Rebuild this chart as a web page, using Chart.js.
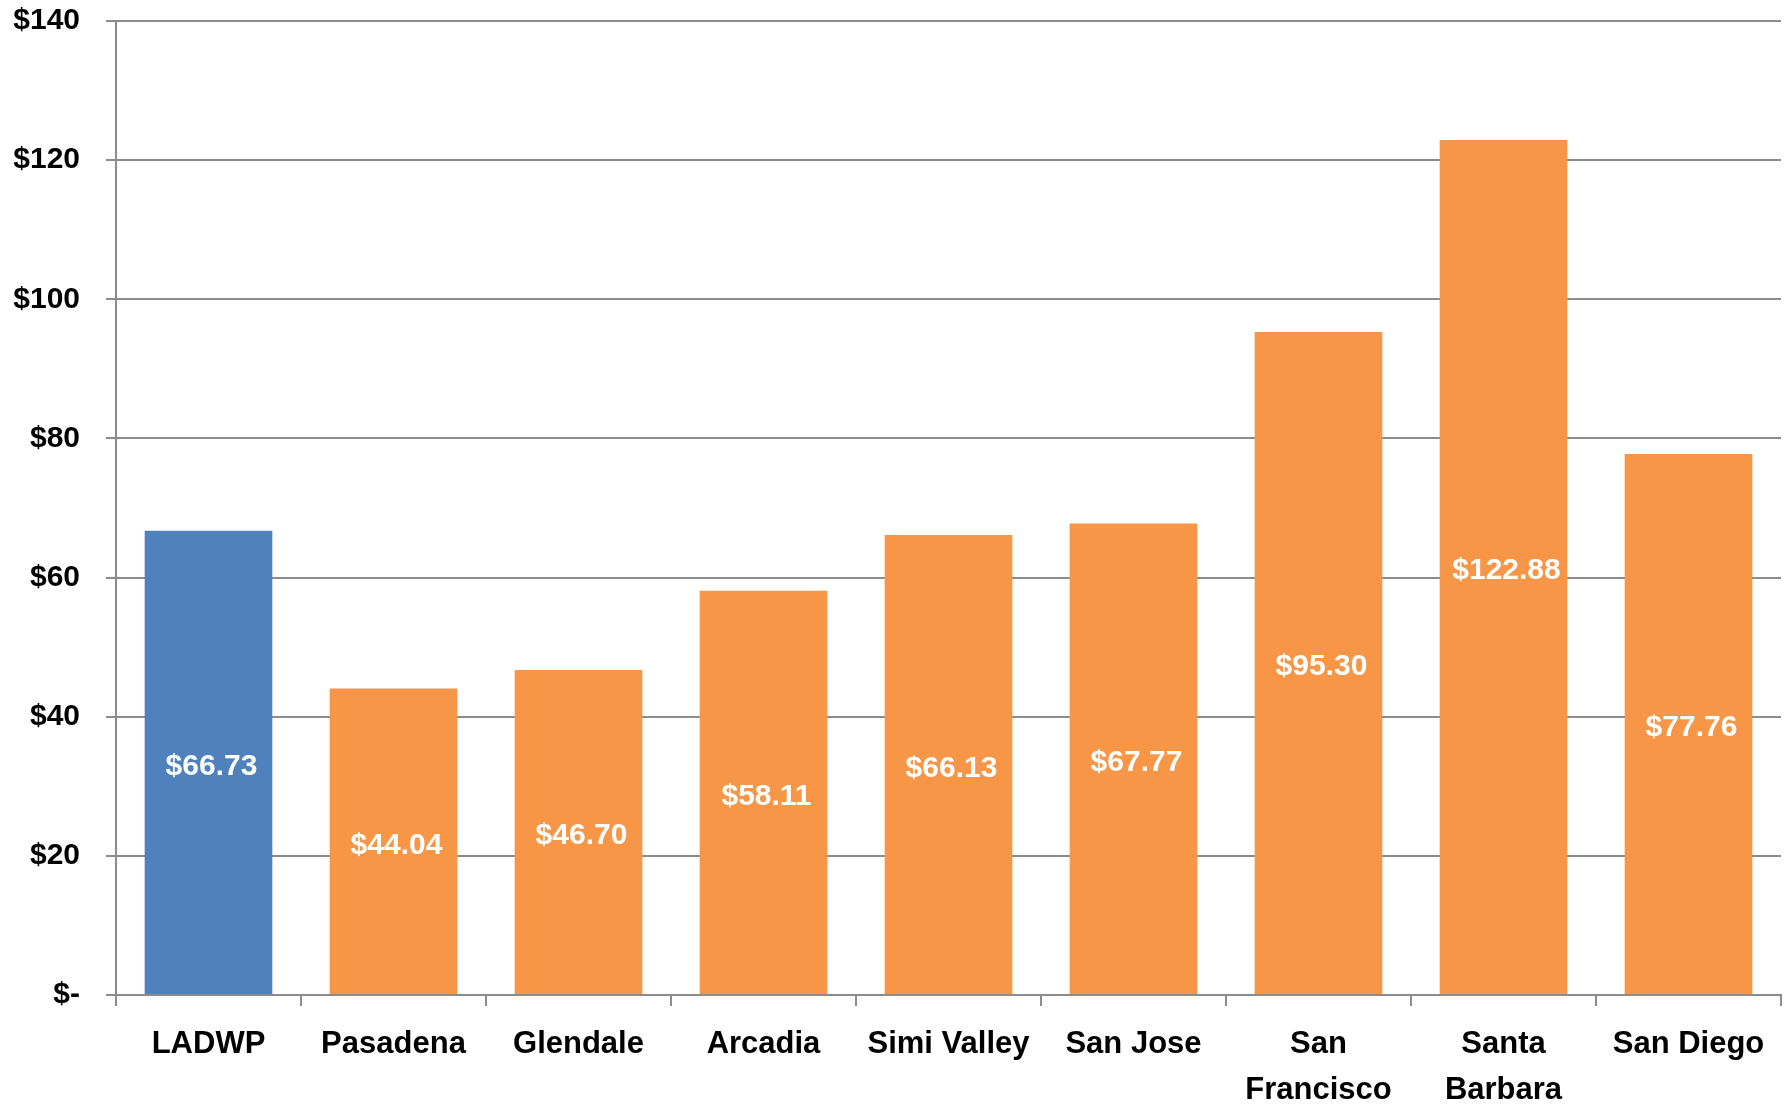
<!DOCTYPE html>
<html>
<head>
<meta charset="utf-8">
<script src="https://cdn.jsdelivr.net/npm/chart.js@4/dist/chart.umd.min.js"></script>
<style>
html,body{margin:0;padding:0;background:#fff;}
#wrap{width:1789px;height:1107px;position:relative;}
</style>
</head>
<body>
<div id="wrap"><canvas id="c" width="1789" height="1107"></canvas></div>
<script>
const categories = ['LADWP', 'Pasadena', 'Glendale', 'Arcadia', 'Simi Valley', 'San Jose', ['San', 'Francisco'], ['Santa', 'Barbara'], 'San Diego'];
const values = [66.73, 44.04, 46.70, 58.11, 66.13, 67.77, 95.30, 122.88, 77.76];
const barColors = ['#4F81BD', '#F79646', '#F79646', '#F79646', '#F79646', '#F79646', '#F79646', '#F79646', '#F79646'];
const yTicks = [0, 20, 40, 60, 80, 100, 120, 140];

const FONT = "'Liberation Sans', Arial, sans-serif";

const centerLabels = {
  id: 'centerLabels',
  afterDatasetsDraw(chart) {
    const ctx = chart.ctx;
    const meta = chart.getDatasetMeta(0);
    ctx.save();
    ctx.fillStyle = '#ffffff';
    ctx.font = 'bold 30px ' + FONT;
    ctx.textAlign = 'center';
    ctx.textBaseline = 'middle';
    meta.data.forEach((bar, i) => {
      const v = values[i];
      const y = (bar.y + bar.base) / 2;
      ctx.fillText('$' + v.toFixed(2), bar.x + 3, y + 4);
    });
    ctx.restore();
  }
};

new Chart(document.getElementById('c'), {
  type: 'bar',
  data: {
    labels: categories,
    datasets: [{
      data: values,
      backgroundColor: barColors,
      borderWidth: 0,
      barPercentage: 0.69,
      categoryPercentage: 1.0
    }]
  },
  options: {
    responsive: false,
    animation: false,
    devicePixelRatio: 1,
    layout: { padding: { top: 21, right: 8, left: 0, bottom: 0 } },
    plugins: { legend: { display: false }, tooltip: { enabled: false } },
    scales: {
      x: {
        offset: true,
        grid: { display: true, drawOnChartArea: false, drawTicks: true, tickLength: 11, color: '#8c8c8c', lineWidth: 2 },
        border: { display: true, color: '#8c8c8c', width: 2 },
        ticks: {
          color: '#000',
          font: { family: FONT, size: 31, weight: 'bold', lineHeight: 1.48 },
          padding: 16,
          maxRotation: 0,
          autoSkip: false
        },
        afterFit(scale) { scale.height = 112; }
      },
      y: {
        min: 0,
        max: 140,
        afterBuildTicks(scale) { scale.ticks = yTicks.map(v => ({ value: v })); },
        grid: { color: '#8c8c8c', lineWidth: 2, drawTicks: true, tickLength: 10 },
        border: { display: true, color: '#8c8c8c', width: 2 },
        ticks: {
          color: '#000',
          font: { family: FONT, size: 30, weight: 'bold' },
          padding: 26,
          callback: (v) => v === 0 ? '$-' : '$' + v
        },
        afterFit(scale) { scale.width = 116; scale.paddingTop = 0; scale.paddingBottom = 0; }
      }
    }
  },
  plugins: [centerLabels]
});
</script>
</body>
</html>
